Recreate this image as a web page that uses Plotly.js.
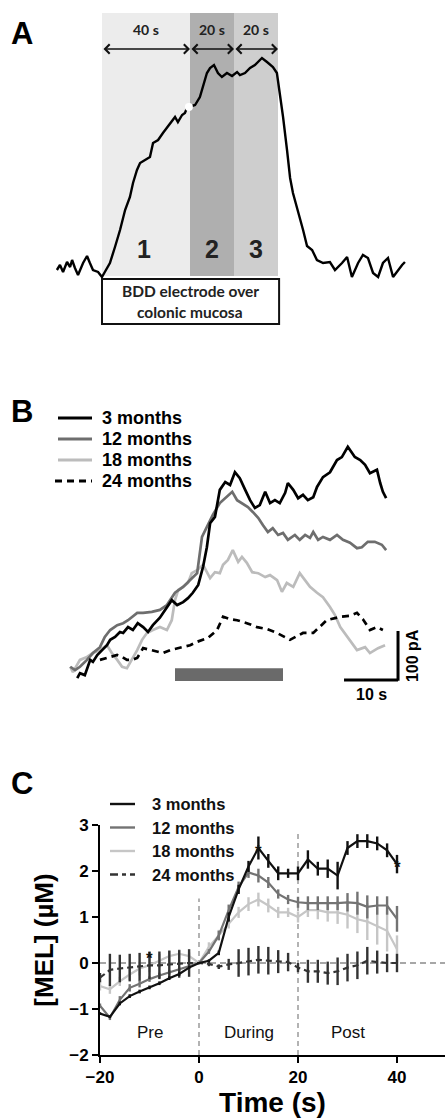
<!DOCTYPE html>
<html><head><meta charset="utf-8">
<script src="https://cdn.plot.ly/plotly-3.0.1.min.js"></script>
<style>html,body{margin:0;padding:0;background:#fff}#g{width:445px;height:1119px}</style>
</head><body><div id="g"></div>
<script>
// ---------- Panel A: example trace (time in s, signal arbitrary units) ----------
const A_time = [-20.5,-19.1,-17.7,-15.9,-14.5,-13.6,-12.3,-10.9,-8.6,-6.8,-5.5,-4.1,-1.8,0,0.5,3.6,5.9,8.2,10.5,12.7,14.1,15.9,17.3,19.5,21.8,23.2,25.5,27.7,29.5,31.8,33.2,34.5,36.4,37.7,38.6,39.5,42.3,44.5,45.9,47.7,49.1,50.9,52.7,54.5,56.8,59.1,61.4,62.7,65.0,67.3,69.5,72.7,75.0,77.7,79.5,80.9,82.3,84.1,85.5,86.8,88.6,90.0,91.4,93.2,95.5,97.7,100.5,103.6,105.9,109.1,111.4,113.6,116.4,118.6,120.9,123.2,125.5,127.7,130.0,132.3,134.5,136.4,137.7];
const A_signal = [-2,3,-4,6,1,8,0,-7,5,12,5,-2,-4,-9,-7,5,21,38,58,71,85,98,105,108,111,125,128,135,140,146,151,146,153,155,160,161,163,171,181,195,200,203,195,191,195,192,196,193,195,200,203,210,206,201,195,175,151,118,90,75,61,51,38,22,18,8,5,6,-2,5,11,-9,5,13,10,-5,-9,5,10,-9,-2,3,6];
const A_gapX = [39.5], A_gapY = [161];
const A_phases = [[0,40,'40 s','1'],[40,60,'20 s','2'],[60,80,'20 s','3']];

// ---------- Panel B: representative traces (s, pA) ----------
const B_t3  = [1.9,2.4,3.3,4.3,4.8,5.6,6.5,7.4,8.0,8.9,9.8,10.4,11.3,12.2,13.1,14.1,15.0,15.9,17.2,18.5,19.4,20.4,21.5,22.4,23.3,24.3,25.2,25.9,26.5,27.4,28.3,29.3,30.2,31.1,32.0,33.0,33.9,34.8,35.7,36.7,37.6,38.5,39.4,40.4,40.9,41.9,42.8,43.7,44.6,45.6,46.3,47.4,48.7,50.0,50.9,52.0,53.3,54.3,55.2,56.1,57.4,58.0,58.5,59.1];
const B_3m  = [4,14,10,41,37,51,61,71,82,88,98,96,108,102,116,108,98,112,127,147,163,153,159,167,178,194,231,271,320,333,388,404,398,424,412,388,367,351,357,384,361,367,361,382,402,388,371,378,367,373,394,414,424,449,455,476,455,449,439,422,429,402,384,371];
const B_t12 = [0.6,1.5,2.4,3.7,4.8,6.1,7.0,8.0,9.3,10.4,11.3,13.0,14.1,15.7,17.2,18.5,20.0,21.5,22.8,24.1,25.0,25.9,27.0,28.3,29.6,30.6,31.5,32.4,33.5,34.4,35.4,36.3,37.2,38.1,39.1,40.0,40.9,42.2,43.1,44.1,45.0,45.6,46.5,47.4,48.7,50.0,51.1,52.4,53.7,54.6,55.7,57.0,58.3,59.1];
const B_12m = [27,20,27,41,55,67,88,102,112,116,122,137,137,139,143,153,178,190,204,218,292,312,337,361,373,384,367,361,353,343,331,316,302,310,296,300,286,296,286,296,290,302,286,292,286,296,286,280,269,271,282,282,276,265];
const B_t18 = [0.6,1.1,2.4,3.7,4.8,6.1,7.4,8.3,9.3,10.2,11.1,12.0,13.0,13.9,14.8,15.9,17.2,18.5,19.4,20.0,20.6,21.5,22.4,23.1,24.1,25.2,26.5,27.4,28.3,28.9,29.8,30.7,31.7,32.4,33.3,34.3,35.4,36.7,37.6,38.9,39.8,40.7,41.9,43.1,44.1,45.0,46.3,47.4,48.7,49.6,50.6,52.4,53.7,55.2,56.1,57.6,58.9];
const B_18m = [27,16,41,47,55,61,71,55,41,27,24,41,61,82,96,102,108,102,122,163,184,190,198,218,224,235,208,220,218,235,245,265,241,251,239,220,218,210,214,204,180,198,190,218,204,190,178,169,149,133,108,82,61,67,55,65,71];
const B_t24 = [6.1,8.0,9.3,10.2,11.1,12.0,13.0,14.1,15.4,16.7,17.8,19.1,20.4,21.5,22.8,24.1,25.2,26.1,27.8,28.9,30.2,31.5,33.3,35.2,37.0,38.9,41.3,43.7,45.6,46.9,48.1,50.6,52.4,53.7,54.8,56.1,57.4,58.5];
const B_24m = [41,47,51,47,41,41,45,65,61,57,55,61,65,67,71,78,82,86,102,129,124,122,116,108,104,96,82,96,96,110,122,129,131,137,124,102,108,102];
const B_stim = [20, 40];

// ---------- Panel C: mean [MEL] (µM) ----------
const C_time = [-20,-18,-16,-14,-12,-10,-8,-6,-4,-2,0,2,4,6,8,10,12,14,16,18,20,22,24,26,28,30,32,34,36,38,40];
const C_3m  = [-1.10,-1.17,-0.88,-0.72,-0.62,-0.53,-0.44,-0.33,-0.24,-0.10,0.00,0.05,0.22,1.00,1.60,2.10,2.50,2.22,1.95,1.95,1.95,2.25,2.05,2.05,1.90,2.50,2.65,2.65,2.60,2.45,2.15];
const C_3e  = [0.03,0.03,0.04,0.04,0.04,0.04,0.04,0.04,0.04,0.03,0,0.03,0.05,0.1,0.1,0.12,0.25,0.15,0.15,0.1,0.15,0.2,0.15,0.2,0.3,0.15,0.15,0.15,0.15,0.15,0.2];
const C_12m = [-0.93,-1.19,-0.80,-0.54,-0.45,-0.35,-0.27,-0.20,-0.14,-0.07,0.00,0.25,0.60,1.15,1.65,1.97,1.90,1.75,1.50,1.38,1.32,1.30,1.30,1.30,1.30,1.32,1.30,1.22,1.25,1.25,0.96];
const C_12e = [0.05,0.05,0.08,0.08,0.08,0.06,0.06,0.05,0.05,0.04,0,0.05,0.1,0.12,0.12,0.12,0.15,0.12,0.1,0.1,0.12,0.15,0.15,0.15,0.15,0.2,0.25,0.25,0.2,0.2,0.28];
const C_18m = [-0.50,-0.57,-0.40,-0.25,-0.12,-0.05,0.05,0.15,0.20,0.15,0.00,0.35,0.60,0.85,1.10,1.28,1.38,1.25,1.10,1.10,1.00,1.15,1.15,1.10,1.10,1.05,0.95,0.90,0.80,0.70,0.30];
const C_18e = [0.1,0.1,0.1,0.12,0.15,0.15,0.15,0.12,0.1,0.08,0,0.1,0.12,0.1,0.12,0.15,0.15,0.15,0.12,0.1,0.12,0.15,0.2,0.2,0.25,0.3,0.3,0.4,0.4,0.45,0.3];
const C_24m = [-0.32,-0.15,-0.12,-0.10,-0.08,-0.05,-0.05,-0.03,-0.02,0.00,0.00,-0.02,-0.08,-0.03,0.00,0.03,0.07,0.05,0.03,0.02,-0.10,-0.18,-0.18,-0.22,-0.18,-0.10,-0.05,0.05,0.02,0.00,0.00];
const C_24e = [0.1,0.35,0.3,0.3,0.3,0.3,0.3,0.3,0.3,0.3,0,0.05,0.05,0.12,0.3,0.3,0.3,0.3,0.25,0.2,0.1,0.25,0.25,0.25,0.3,0.3,0.3,0.3,0.25,0.2,0.2];
const C_xticks = [-20,0,20,40];
const C_yticks = [-2,-1,0,1,2,3];
const C_periods = [[-10,'Pre'],[10,'During'],[30,'Post']];
const C_stars = [[-10,0.16],[12,2.48],[40,2.15]];
const groups = ['3 months','12 months','18 months','24 months'];

// ---------- layout helpers (page pixels) ----------
const W = 445, H = 1119;
const PX = x => x / W, PY = y => 1 - y / H;
const ARIAL = 'Liberation Sans, Arial, sans-serif';
const CAL = 'Lato, Open Sans, sans-serif';
const colB = ['#000000','#6e6e6e','#bcbcbc','#000000'];
const colC = ['#111111','#737373','#c6c6c6','#333333'];

// Panel A mapping: x0 at px 102, 2.2 px/s ; y0 at px 268, 1 unit/px
const axA = {domain:[0,1], range:[-102/2.2, (W-102)/2.2], visible:false, fixedrange:true};
const ayA = {domain:[0,1], range:[268-H, 268], visible:false, fixedrange:true};
// Panel B mapping: x0 at px 67, 5.4 px/s ; y0 at px 680, 0.49 px/pA
const axB = {domain:[0,1], range:[-67/5.4, (W-67)/5.4], visible:false, fixedrange:true, anchor:'y2'};
const ayB = {domain:[0,1], range:[(680-H)/0.49, 680/0.49], visible:false, fixedrange:true, anchor:'x2'};

const traces = [];
traces.push({x:A_time, y:A_signal, xaxis:'x', yaxis:'y', mode:'lines', line:{color:'#000', width:2.4}, hoverinfo:'skip'});
traces.push({x:A_gapX, y:A_gapY, xaxis:'x', yaxis:'y', mode:'markers', marker:{color:'#fff', size:8}, hoverinfo:'skip'});

const Bx = [B_t3,B_t12,B_t18,B_t24], By = [B_3m,B_12m,B_18m,B_24m];
[2,1,0,3].forEach(i => {
  traces.push({x:Bx[i], y:By[i], xaxis:'x2', yaxis:'y2', mode:'lines',
    line:{color:colB[i], width:2.7, dash: i===3 ? '7px,5px' : 'solid'}, hoverinfo:'skip'});
});

const Cy = [C_3m,C_12m,C_18m,C_24m], Ce = [C_3e,C_12e,C_18e,C_24e];
[2,1,3,0].forEach(i => {
  traces.push({x:C_time, y:Cy[i], xaxis:'x3', yaxis:'y3', mode:'lines',
    line:{color:colC[i], width:2.2, dash: i===3 ? '6px,4px' : 'solid'},
    error_y:{type:'data', array:Ce[i], visible:true, color:colC[i], thickness:2.4, width:0},
    hoverinfo:'skip', cliponaxis:false});
});

const shapes = [];
const annotations = [];
// Panel A shading & box
const shade = ['#ececec','#afafaf','#cecece'];
A_phases.forEach((p,i) => {
  shapes.push({type:'rect', xref:'x', yref:'y', x0:p[0], x1:p[1], y0:-8, y1:255, fillcolor:shade[i], line:{width:0}, layer:'below'});
  annotations.push({xref:'x', yref:'y', x:p[1], y:219, ax:p[0], ay:219, axref:'x', ayref:'y', text:'', showarrow:true,
    arrowhead:4, arrowside:'end+start', arrowsize:1.3, arrowwidth:1.4, arrowcolor:'#111', standoff:0, startstandoff:0});
  annotations.push({xref:'x', yref:'y', x:(p[0]+p[1])/2, y:239, text:p[2], showarrow:false,
    font:{family:CAL, size:14, color:'#222', weight:'bold'}});
  annotations.push({xref:'x', yref:'y', x:(p[0]+p[1])/2 + (i===0 ? -1 : 0), y:19, text:p[3], showarrow:false,
    font:{family:ARIAL, size:25, color:'#222', weight:'bold'}});
});
shapes.push({type:'rect', xref:'x', yref:'y', x0:0, x1:80.5, y0:-56, y1:-11, fillcolor:'#fff', line:{color:'#111', width:2}});
annotations.push({xref:'x', yref:'y', x:40.2, y:-23, text:'BDD electrode over', showarrow:false, font:{family:CAL, size:15.5, color:'#222', weight:'bold'}});
annotations.push({xref:'x', yref:'y', x:40.2, y:-44, text:'colonic mucosa', showarrow:false, font:{family:CAL, size:15.5, color:'#222', weight:'bold'}});

// Panel B stimulus bar and scale bars
shapes.push({type:'rect', xref:'x2', yref:'y2', x0:B_stim[0], x1:B_stim[1], y0:-2, y1:24, fillcolor:'#6a6a6a', line:{width:0}});
shapes.push({type:'line', xref:'x2', yref:'y2', x0:51.3, x1:61.3, y0:0, y1:0, line:{color:'#000', width:3}});
shapes.push({type:'line', xref:'x2', yref:'y2', x0:61.3, x1:61.3, y0:-1.5, y1:100, line:{color:'#000', width:3}});
annotations.push({xref:'x2', yref:'y2', x:56.3, y:-29, text:'10 s', showarrow:false, font:{family:ARIAL, size:16, color:'#000', weight:'bold'}});
annotations.push({xref:'x2', yref:'y2', x:64.0, y:50, text:'100 pA', textangle:-90, showarrow:false, font:{family:ARIAL, size:16, color:'#000', weight:'bold'}});

// Panel B legend
groups.forEach((g,i) => {
  const yy = 418 + i*21;
  shapes.push({type:'line', xref:'paper', yref:'paper', x0:PX(i===3?55:58), x1:PX(92), y0:PY(yy), y1:PY(yy),
    line:{color:colB[i], width:3, dash: i===3 ? '7px,5px' : 'solid'}});
  annotations.push({xref:'paper', yref:'paper', x:PX(100), y:PY(yy), xanchor:'left', yanchor:'middle', text:g, showarrow:false,
    font:{family:ARIAL, size:18, color:'#000', weight:'bold'}});
});

// Panel C reference lines, labels, legend
shapes.push({type:'line', xref:'x3', yref:'y3', x0:0, x1:0, y0:-2, y1:1.4, line:{color:'#9a9a9a', width:1.5, dash:'5px,4px'}, layer:'below'});
shapes.push({type:'line', xref:'x3', yref:'y3', x0:20, x1:20, y0:-2, y1:2.87, line:{color:'#9a9a9a', width:1.5, dash:'5px,4px'}, layer:'below'});
shapes.push({type:'line', xref:'x3', yref:'y3', x0:-20, x1:49.7, y0:0, y1:0, line:{color:'#8a8a8a', width:1.5, dash:'6px,4px'}, layer:'below'});
C_periods.forEach(p => annotations.push({xref:'x3', yref:'y3', x:p[0], y:-1.52, text:p[1], showarrow:false,
  font:{family:ARIAL, size:17, color:'#111'}}));
C_stars.forEach(s => annotations.push({xref:'x3', yref:'y3', x:s[0], y:s[1], text:'*', showarrow:false, yshift:-3,
  font:{family:ARIAL, size:17, color:'#111', weight:'bold'}}));
groups.forEach((g,i) => {
  const yy = 804 + i*23.5;
  shapes.push({type:'line', xref:'paper', yref:'paper', x0:PX(110), x1:PX(135), y0:PY(yy), y1:PY(yy),
    line:{color:colC[i], width:2.4, dash: i===3 ? '8px,4px,4px,4px' : 'solid'}});
  annotations.push({xref:'paper', yref:'paper', x:PX(150), y:PY(yy), xanchor:'left', yanchor:'middle', text:g, showarrow:false,
    font:{family:ARIAL, size:16.5, color:'#111', weight:'bold'}});
});

// Panel letters
[['A',34],['B',412],['C',783]].forEach(l => annotations.push({xref:'paper', yref:'paper', x:PX(22), y:PY(l[1]),
  text:l[0], showarrow:false, xanchor:'center', yanchor:'middle', font:{family:ARIAL, size:31, color:'#000', weight:'bold'}}));

const layout = {
  width:W, height:H, margin:{l:0,r:0,t:0,b:0}, paper_bgcolor:'#fff', plot_bgcolor:'rgba(0,0,0,0)', showlegend:false,
  xaxis:axA, yaxis:ayA, xaxis2:axB, yaxis2:ayB,
  xaxis3:{domain:[100/W,1], range:[-20, -20 + (W-100)/4.95], anchor:'y3', showline:true, linecolor:'#000', linewidth:2,
    ticks:'outside', ticklen:6, tickwidth:2, tickcolor:'#000', tickvals:C_xticks, showgrid:false, zeroline:false,
    tickfont:{family:ARIAL, size:17, color:'#000', weight:'bold'}, fixedrange:true,
    title:{text:'Time (s)', standoff:6, font:{family:ARIAL, size:28, color:'#000', weight:'bold'}}},
  yaxis3:{domain:[(H-1055)/H,(H-825)/H], range:[-2,3], anchor:'x3', showline:true, linecolor:'#000', linewidth:2,
    ticks:'outside', ticklen:6, tickwidth:2, tickcolor:'#000', tickvals:C_yticks, showgrid:false, zeroline:false,
    tickfont:{family:ARIAL, size:17, color:'#000', weight:'bold'}, fixedrange:true,
    title:{text:'[MEL] (µM)', standoff:8, font:{family:ARIAL, size:26, color:'#000', weight:'bold'}}},
  shapes:shapes, annotations:annotations
};
Plotly.newPlot('g', traces, layout, {staticPlot:true, displayModeBar:false});
</script></body></html>
